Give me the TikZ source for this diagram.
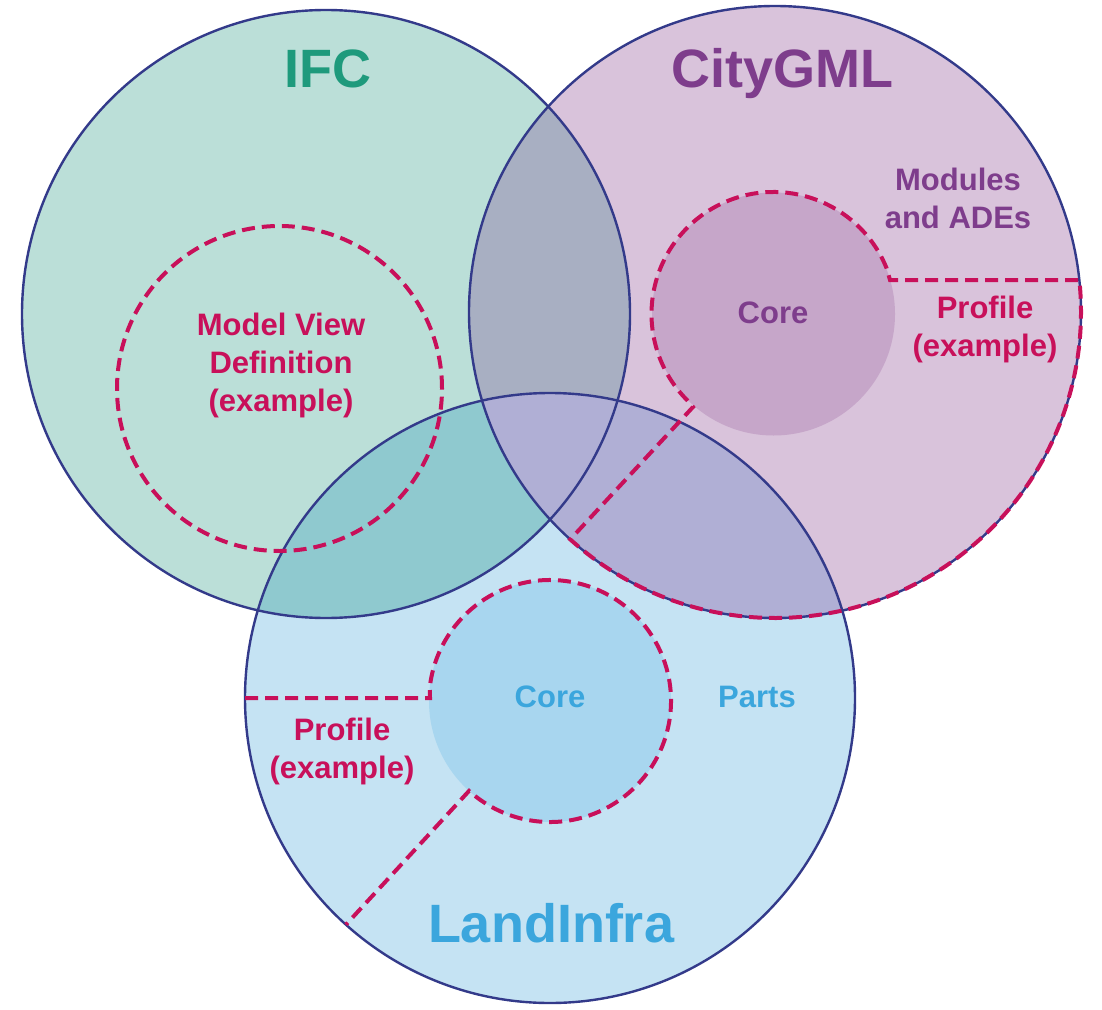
\documentclass[tikz,border=0pt]{standalone}
\usepackage{fontspec}
\setmainfont{Liberation Sans}
\usepackage{tikz}
\usetikzlibrary{calc}
\definecolor{ifcfill}{HTML}{BBDFD8}
\definecolor{cityfill}{HTML}{D9C3DB}
\definecolor{landfill}{HTML}{C5E3F3}
\definecolor{ifccity}{HTML}{A8AFC2}
\definecolor{ifcland}{HTML}{8FC9CF}
\definecolor{cityland}{HTML}{B0AFD5}
\definecolor{allthree}{HTML}{8AA5BA}
\definecolor{citycorefill}{HTML}{C6A6C9}
\definecolor{landcorefill}{HTML}{A8D6EF}
\definecolor{ringblue}{HTML}{333A8A}
\definecolor{profilered}{HTML}{C8105A}
\definecolor{ifctext}{HTML}{1E9A7C}
\definecolor{citytext}{HTML}{7E3D8C}
\definecolor{landtext}{HTML}{3BA6DD}
\tikzset{
    ring/.style={draw=ringblue, line width=1.2pt},
    profileline/.style={draw=profilered, line width=2pt, dash pattern=on 6.5pt off 3.5pt},
    bigname/.style={font=\bfseries\fontsize{27}{32}\selectfont, anchor=base},
    smallname/.style={font=\bfseries\fontsize{15.5}{19}\selectfont, align=center}
}
\begin{document}
\begin{tikzpicture}[x=0.5pt, y=0.5pt]
    \useasboundingbox (0,0) rectangle (1102,1009);
    % Circle centres
    \coordinate (ifc) at (326,695);
    \coordinate (city) at (775,697);
    \coordinate (land) at (550,311);
    \coordinate (citycore) at (773.5,695);
    \coordinate (landcore) at (550,308);
    \coordinate (mvd) at (279.5,620.5);

    % Fills and overlaps
    \fill[ifcfill] (ifc) circle (304);
    \fill[cityfill] (city) circle (306);
    \fill[landfill] (land) circle (305);
    \begin{scope}
        \clip (ifc) circle (304);
        \fill[ifccity] (city) circle (306);
        \fill[ifcland] (land) circle (305);
        \clip (city) circle (306);
        \fill[allthree] (land) circle (305);
    \end{scope}
    \begin{scope}
        \clip (city) circle (306);
        \fill[cityland] (land) circle (305);
    \end{scope}
    \fill[citycorefill] (citycore) circle (121.5);
    \fill[landcorefill] (landcore) circle (121);

    % Outlines
    \draw[ring] (ifc) circle (304);
    \draw[ring] (city) circle (306);
    \draw[ring] (land) circle (305);

    % Profiles
    \draw[profileline] (mvd) circle (162.5);
    \draw[profileline] ($(citycore)+(22:122)$) arc[start angle=22, end angle=225, radius=122]
        -- (693,602) -- ($(city)+(228:306)$) arc[start angle=228, end angle=366, radius=306]
        -- (890,729) -- cycle;
    \draw[profileline] (245,311) -- (430,311) -- ($(landcore)+(173:121)$)
        arc[start angle=173, end angle=-132, radius=121] -- ($(land)+(228:305)$);

    % Labels
    \node[bigname, text=ifctext] (ifcname) at (327.5,921) {IFC};
    \node[bigname, text=citytext] (cityname) at (782.5,921) {CityGML};
    \node[bigname, text=landtext] (landname) at (551,67) {LandInfra};
    \node[smallname, text=profilered] (mvdname) at (281,644) {Model View\\Definition\\(example)};
    \node[smallname, text=citytext] (modules) at (958,811) {Modules\\and ADEs};
    \node[smallname, text=citytext] (citycorename) at (773,696) {Core};
    \node[smallname, text=profilered] (cityprofile) at (985,680) {Profile\\(example)};
    \node[smallname, text=landtext] (landcorename) at (550,312) {Core};
    \node[smallname, text=landtext] (parts) at (757,312) {Parts};
    \node[smallname, text=profilered] (landprofile) at (342,258) {Profile\\(example)};
\end{tikzpicture}
\end{document}
